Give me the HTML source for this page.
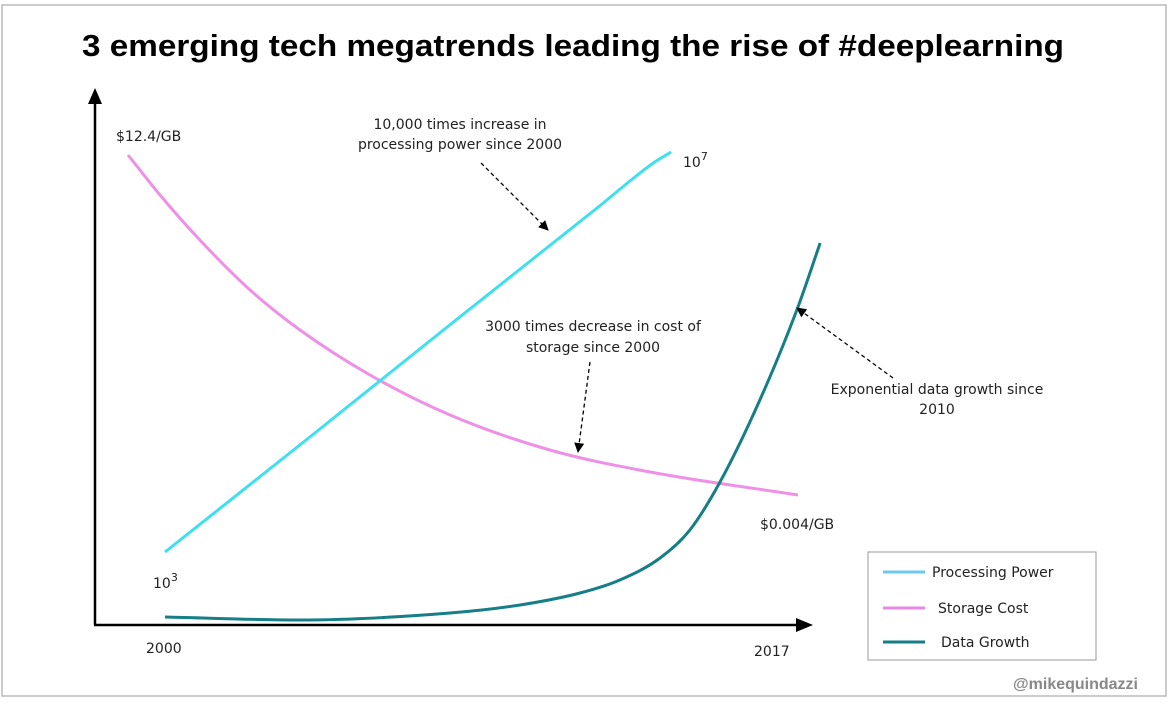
<!DOCTYPE html>
<html><head><meta charset="utf-8"><style>
html,body{margin:0;padding:0;background:#fff;}
svg{display:block;}
.t{font-family:"DejaVu Sans","Liberation Sans",sans-serif;font-size:14px;fill:#222;}
</style></head><body>
<svg id="c" width="1171" height="706" xmlns="http://www.w3.org/2000/svg">
<rect x="2" y="5" width="1164" height="691" fill="#fff" stroke="#bbb" stroke-width="1.5"/>
<text x="573" y="56" text-anchor="middle" textLength="982" lengthAdjust="spacingAndGlyphs" font-family="Liberation Sans,sans-serif" font-weight="bold" font-size="31" fill="#000">3 emerging tech megatrends leading the rise of #deeplearning</text>
<defs>
<marker id="ah" markerWidth="10" markerHeight="10" refX="9" refY="5" orient="auto" markerUnits="userSpaceOnUse"><path d="M0,0 L10,5 L0,10 z" fill="#000"/></marker>
</defs>
<g>
<line x1="95" y1="625" x2="95" y2="100" stroke="#000" stroke-width="2.5"/>
<path d="M88,104 L95,88 L102,104 z" fill="#000"/>
<line x1="94" y1="625" x2="800" y2="625" stroke="#000" stroke-width="2.5"/>
<path d="M796,618 L813,625 L796,632 z" fill="#000"/>
</g>
<g id="series"></g>
<text class="t" x="146" y="653">2000</text>
<text class="t" x="754" y="656">2017</text>
<text class="t" x="116" y="141">$12.4/GB</text>
<text class="t" x="760" y="529">$0.004/GB</text>
<text class="t" x="153" y="588">10<tspan dy="-7" font-size="11">3</tspan></text>
<text class="t" x="683" y="167">10<tspan dy="-7" font-size="11">7</tspan></text>
<text class="t" text-anchor="middle"><tspan x="460" y="129">10,000 times increase in</tspan><tspan x="460" y="149">processing power since 2000</tspan></text>
<text class="t" text-anchor="middle"><tspan x="593" y="331">3000 times decrease in cost of</tspan><tspan x="593" y="352">storage since 2000</tspan></text>
<text class="t" text-anchor="middle"><tspan x="937" y="394">Exponential data growth since</tspan><tspan x="937" y="414">2010</tspan></text>
<g stroke="#000" stroke-width="1.3" stroke-dasharray="4,3" fill="none">
<line x1="481" y1="163" x2="548" y2="230" marker-end="url(#ah)"/>
<line x1="590" y1="362" x2="578" y2="452" marker-end="url(#ah)"/>
<line x1="893" y1="378" x2="797" y2="308" marker-end="url(#ah)"/>
</g>
<g>
<rect x="868" y="552" width="228" height="108" fill="#fff" stroke="#999"/>
<line x1="883" y1="572" x2="925" y2="572" stroke="#6cc8ee" stroke-width="3"/>
<text class="t" x="932" y="577">Processing Power</text>
<line x1="883" y1="608" x2="925" y2="608" stroke="#e888e0" stroke-width="3"/>
<text class="t" x="938" y="613">Storage Cost</text>
<line x1="883" y1="642" x2="925" y2="642" stroke="#167e86" stroke-width="3"/>
<text class="t" x="941" y="647">Data Growth</text>
</g>
<text x="1138" y="689" text-anchor="end" font-family="Liberation Sans,sans-serif" font-weight="bold" font-size="16" fill="#888">@mikequindazzi</text>
</svg>
<script>
const powerYears=[0,4,8,12,13.6,14.1];
const powerValues=[3,4.14,5.29,6.43,6.89,7.0];
const storageYears=[-1.03,-0.14,0.97,2.37,3.76,5.71,7.94,10.72,13.51,17.63];
const storageValues=[93,85,76,66,58,49,41,34,29.6,25];
const dataYears=[0,3.76,7.94,9.89,11.56,12.67,13.79,14.62,15.46,16.57,17.6,18.25];
const dataValues=[0.6,0,1.4,3,5.4,8,12.4,18,27.6,44,62,75.4];
const xS=y=>165+y*35.9;
const powY=v=>552-(v-3)*100;
const idxY=v=>620-v*5;
function path(xs,vs,yf){
  const p=xs.map((x,i)=>[xS(x),yf(vs[i])]);
  const n=p.length, d=[], m=new Array(n);
  for(let i=0;i<n-1;i++) d.push((p[i+1][1]-p[i][1])/(p[i+1][0]-p[i][0]));
  m[0]=d[0]; m[n-1]=d[n-2];
  for(let i=1;i<n-1;i++){ m[i]=(d[i-1]*d[i]<=0)?0:(d[i-1]+d[i])/2; }
  for(let i=0;i<n-1;i++){
    if(d[i]===0){m[i]=0;m[i+1]=0;continue;}
    const a=m[i]/d[i], b=m[i+1]/d[i], s=a*a+b*b;
    if(s>9){const t=3/Math.sqrt(s);m[i]=t*a*d[i];m[i+1]=t*b*d[i];}
  }
  let s='M'+p[0][0]+','+p[0][1];
  for(let i=0;i<n-1;i++){
    const h=(p[i+1][0]-p[i][0])/3;
    s+=` C${p[i][0]+h},${p[i][1]+m[i]*h} ${p[i+1][0]-h},${p[i+1][1]-m[i+1]*h} ${p[i+1][0]},${p[i+1][1]}`;
  }
  return s;
}
const g=document.getElementById('series');
function add(d,color,name){
  const el=document.createElementNS('http://www.w3.org/2000/svg','path');
  el.setAttribute('d',d);el.setAttribute('fill','none');
  el.setAttribute('stroke',color);el.setAttribute('stroke-width','3');
  
  
  g.appendChild(el);
}
add(path(storageYears,storageValues,idxY),'#ee90e6','storage-cost-line');
add(path(dataYears,dataValues,idxY),'#167e86','data-growth-line');
add(path(powerYears,powerValues,powY),'#3ee0f0','processing-power-line');
</script>
</body></html>
